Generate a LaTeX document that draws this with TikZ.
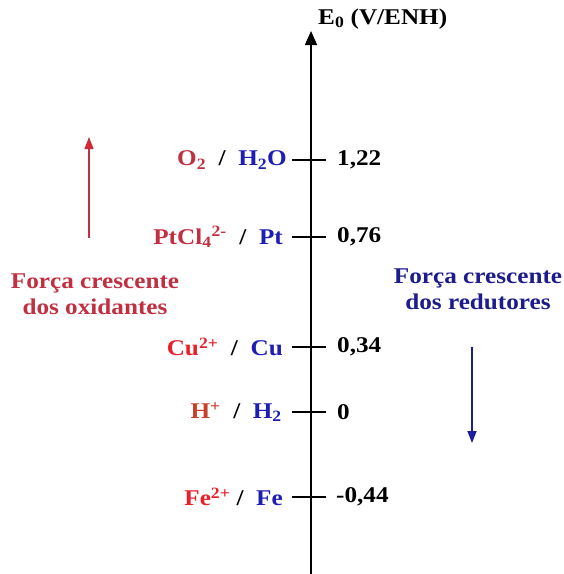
\documentclass[tikz,border=0pt]{standalone}
\usepackage{fontspec}
\setmainfont{Liberation Serif}[FakeStretch=1.12]
\usetikzlibrary{arrows.meta}
\definecolor{oxred}{HTML}{C03040}
\definecolor{cured}{HTML}{E8202A}
\definecolor{hred}{HTML}{C8402A}
\definecolor{redblue}{HTML}{1E1EB4}
\definecolor{darkblue}{HTML}{1C1C8C}
\tikzset{
  lbl/.style={font=\bfseries\fontsize{22.5}{26}\selectfont, inner sep=2pt},
  couple/.style={lbl, anchor=east},
  valor/.style={lbl, anchor=west},
}
\begin{document}
\begin{tikzpicture}[x=1pt,y=-1pt]
\useasboundingbox (0,0) rectangle (564,574);
% eixo dos potenciais
\coordinate (base) at (311,574);
\coordinate (topo) at (311,31);
\draw[line width=1.6pt,-{Triangle[width=12pt,length=14pt]}] (base) -- (topo);
\node[lbl, anchor=west] (eixo) at (316,19) {E\textsubscript{0} (V/ENH)};
% marcas
\coordinate (m1) at (311,160);
\coordinate (m2) at (311,237);
\coordinate (m3) at (311,347);
\coordinate (m4) at (311,412);
\coordinate (m5) at (311,497);
\draw[line width=1.4pt] ([xshift=-19pt]m1) -- ([xshift=15pt]m1);
\draw[line width=1.4pt] ([xshift=-19pt]m2) -- ([xshift=15pt]m2);
\draw[line width=1.4pt] ([xshift=-19pt]m3) -- ([xshift=15pt]m3);
\draw[line width=1.4pt] ([xshift=-19pt]m4) -- ([xshift=15pt]m4);
\draw[line width=1.4pt] ([xshift=-19pt]m5) -- ([xshift=15pt]m5);
% pares redox
\node[couple] (o2) at ([xshift=-22pt]m1) {\textcolor{oxred}{O\textsubscript{2}} \ / \ \textcolor{redblue}{H\textsubscript{2}O}};
\node[couple] (pt) at ([xshift=-26pt]m2) {\textcolor{oxred}{PtCl\textsubscript{4}\textsuperscript{2-}} \ / \ \textcolor{redblue}{Pt}};
\node[couple] (cu) at ([xshift=-26pt]m3) {\textcolor{cured}{Cu\textsuperscript{2+}} \ / \ \textcolor{redblue}{Cu}};
\node[couple] (h) at ([xshift=-27pt]m4) {\textcolor{hred}{H\textsuperscript{+}} \ / \ \textcolor{redblue}{H\textsubscript{2}}};
\node[couple] (fe) at ([xshift=-26pt]m5) {\textcolor{cured}{Fe\textsuperscript{2+}} / \ \textcolor{redblue}{Fe}};
% valores
\node[valor] (v1) at ([xshift=24pt]m1) {1,22};
\node[valor] (v2) at ([xshift=24pt]m2) {0,76};
\node[valor] (v3) at ([xshift=24pt]m3) {0,34};
\node[valor] (v4) at ([xshift=24pt]m4) {0};
\node[valor] (v5) at ([xshift=23pt]m5) {-0,44};
% oxidantes
\coordinate (ox1) at (89,238);
\coordinate (ox2) at (89,137);
\draw[oxred,line width=1.4pt,-{Triangle[width=9pt,length=12pt,fill=cured]}] (ox1) -- (ox2);
\node[lbl, text=oxred, align=center] (oxid) at (95,294) {Força crescente\\dos oxidantes};
% redutores
\coordinate (red1) at (472,347);
\coordinate (red2) at (472,443);
\draw[darkblue,line width=1.4pt,-{Triangle[width=9pt,length=12pt,fill=redblue]}] (red1) -- (red2);
\node[lbl, text=darkblue, align=center] (redut) at (478,289) {Força crescente\\dos redutores};
\end{tikzpicture}
\end{document}
